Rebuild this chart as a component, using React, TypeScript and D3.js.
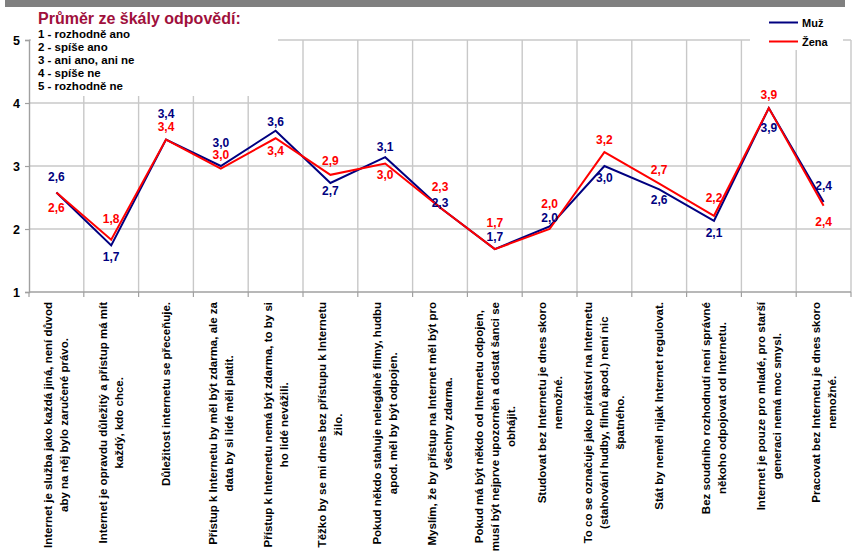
import React, { useEffect, useRef } from "react";
import * as d3 from "d3";

const categories: string[][] = [
  ["Internet je služba jako každá jiná, není důvod", "aby na něj bylo zaručené právo."],
  ["Internet je opravdu důležitý a přístup má mít", "každý, kdo chce."],
  ["Důležitost internetu se přeceňuje."],
  ["Přístup k Internetu by měl být zdarma, ale za", "data by si lidé měli platit."],
  ["Přístup k Internetu nemá být zdarma, to by si", "ho lidé nevážili."],
  ["Těžko by se mi dnes bez přístupu k Internetu", "žilo."],
  ["Pokud někdo stahuje nelegálně filmy, hudbu", "apod. měl by být odpojen."],
  ["Myslím, že by přístup na Internet měl být pro", "všechny zdarma."],
  ["Pokud má být někdo od Internetu odpojen,", "musí být nejprve upozorněn a dostat šanci se", "obhájit."],
  ["Studovat bez Internetu je dnes skoro", "nemožné."],
  ["To co se označuje jako pirátství na Internetu", "(stahování hudby, filmů apod.) není nic", "špatného."],
  ["Stát by neměl nijak Internet regulovat."],
  ["Bez soudního rozhodnutí není správné", "někoho odpojovat od Internetu."],
  ["Internet je pouze pro mladé, pro starší", "generaci nemá moc smysl."],
  ["Pracovat bez Internetu je dnes skoro", "nemožné."],
];

const muz = [2.58, 1.74, 3.42, 3.0, 3.56, 2.73, 3.14, 2.34, 1.68, 2.04, 3.0, 2.63, 2.13, 3.92, 2.43];
const zena = [2.58, 1.83, 3.42, 2.96, 3.44, 2.86, 3.04, 2.34, 1.68, 2.0, 3.22, 2.72, 2.21, 3.92, 2.37];

const yTicks = [1, 2, 3, 4, 5];
const seriesNames = ["Muž", "Žena"];
const titleText = "Průměr ze škály odpovědí:";
const scaleLegend = ["1 - rozhodně ano", "2 - spíše ano", "3 - ani ano, ani ne", "4 - spíše ne", "5 - rozhodně ne"];

// label placement offsets (px, relative to the point)
const muzLabelDy = [-15.5, 11.3, -25.5, -23.3, -9, 7.7, -10.5, -5, -11.9, -8.2, 12.3, 10.7, 11.9, 20.3, -16.2];
const zenaLabelDy = [15.5, -20.4, -12.2, -13.5, 12.7, -13.8, 11.5, -20.5, -26.5, -25, -12.1, -13.6, -17.5, -13, 16];

const FONT = "'Liberation Sans', Arial, sans-serif";
const NAVY = "#000080";
const RED = "#FF0000";

export default function App() {
  const ref = useRef<SVGSVGElement>(null);

  useEffect(() => {
    const svg = d3.select(ref.current);
    svg.selectAll("*").remove();
    const W = 858, H = 554;
    const left = 29, right = 851, top = 40, bottom = 292;

    svg.append("rect").attr("width", W).attr("height", H).attr("fill", "#fff");
    svg.append("rect").attr("x", 5).attr("y", 0).attr("width", 840).attr("height", 7).attr("fill", "#808080");

    const x = d3.scaleBand<number>().domain(d3.range(categories.length)).range([left, right]).padding(0);
    const y = d3.scaleLinear().domain([1, 5]).range([bottom, top]);
    const step = x.step();
    const cx = (i: number) => (x(i) as number) + x.bandwidth() / 2;

    const grid = svg.append("g");
    yTicks.filter((t) => t > 1).forEach((t) => {
      grid.append("line").attr("x1", left).attr("x2", right).attr("y1", y(t)).attr("y2", y(t))
        .attr("stroke", "#c8c8c8").attr("stroke-width", 1.4);
    });
    d3.range(1, categories.length + 1).forEach((i) => {
      const gx = left + i * step;
      grid.append("line").attr("x1", gx).attr("x2", gx).attr("y1", top).attr("y2", bottom)
        .attr("stroke", "#c8c8c8").attr("stroke-width", 1.4);
    });

    // cover boxes for legends
    svg.append("rect").attr("x", 31).attr("y", 8).attr("width", 247).attr("height", 88).attr("fill", "#fff");
    svg.append("rect").attr("x", 750).attr("y", 8).attr("width", 93).attr("height", 42).attr("fill", "#fff");

    // y axis
    const yAxis = svg.append("g").attr("transform", `translate(${left},0)`)
      .call(d3.axisLeft(y).tickValues(yTicks).tickSize(4).tickPadding(5).tickFormat((d) => String(d)));
    yAxis.select(".domain").attr("stroke", "#a0a0a0").attr("stroke-width", 1.4);
    yAxis.selectAll(".tick line").attr("stroke", "#a0a0a0").attr("stroke-width", 1.2);
    yAxis.selectAll(".tick text").attr("font-family", FONT).attr("font-weight", "bold")
      .attr("font-size", 12.5).attr("fill", "#000");

    // x axis
    svg.append("line").attr("x1", left).attr("x2", right).attr("y1", bottom).attr("y2", bottom)
      .attr("stroke", "#a0a0a0").attr("stroke-width", 1.4);
    d3.range(0, categories.length + 1).forEach((i) => {
      const gx = left + i * step;
      svg.append("line").attr("x1", gx).attr("x2", gx).attr("y1", bottom).attr("y2", bottom + 5)
        .attr("stroke", "#a0a0a0").attr("stroke-width", 1.2);
    });

    // category labels (rotated)
    categories.forEach((lines, i) => {
      const g = svg.append("g").attr("transform", `translate(${cx(i)},302) rotate(-90)`);
      const texts = lines.map((ln, j) =>
        g.append("text").text(ln)
          .attr("y", (j - (lines.length - 1) / 2) * 16)
          .attr("dominant-baseline", "central")
          .attr("text-anchor", "middle")
          .attr("font-family", FONT).attr("font-weight", "bold").attr("font-size", 11.5).attr("fill", "#000")
      );
      const maxLen = d3.max(texts, (t) => (t.node() as SVGTextElement).getComputedTextLength()) || 0;
      texts.forEach((t) => t.attr("x", -maxLen / 2));
    });

    // lines
    const line = d3.line<number>().x((_, i) => cx(i)).y((d) => y(d));
    svg.append("path").datum(muz).attr("d", line).attr("fill", "none").attr("stroke", NAVY).attr("stroke-width", 2);
    svg.append("path").datum(zena).attr("d", line).attr("fill", "none").attr("stroke", RED).attr("stroke-width", 2);

    // data labels
    const fmt = (v: number) => v.toFixed(1).replace(".", ",");
    const addLabels = (vals: number[], dys: number[], color: string) => {
      vals.forEach((v, i) => {
        svg.append("text").text(fmt(v)).attr("x", cx(i)).attr("y", y(v) + dys[i])
          .attr("dominant-baseline", "central").attr("text-anchor", "middle")
          .attr("font-family", FONT).attr("font-weight", "bold").attr("font-size", 12).attr("fill", color);
      });
    };
    addLabels(muz, muzLabelDy, NAVY);
    addLabels(zena, zenaLabelDy, RED);

    // title + scale legend
    svg.append("text").text(titleText).attr("x", 38).attr("y", 24)
      .attr("font-family", FONT).attr("font-weight", "bold").attr("font-size", 16).attr("fill", "#A0103C");
    scaleLegend.forEach((s, i) => {
      svg.append("text").text(s).attr("x", 38).attr("y", 38 + i * 13)
        .attr("font-family", FONT).attr("font-weight", "bold").attr("font-size", 11.5).attr("fill", "#000");
    });

    // series legend
    const colors = [NAVY, RED];
    seriesNames.forEach((s, i) => {
      const ly = 22.5 + i * 19;
      svg.append("line").attr("x1", 769).attr("x2", 798).attr("y1", ly).attr("y2", ly)
        .attr("stroke", colors[i]).attr("stroke-width", 2);
      svg.append("text").text(s).attr("x", 802).attr("y", ly + 4)
        .attr("font-family", FONT).attr("font-weight", "bold").attr("font-size", 11).attr("fill", "#000");
    });
  }, []);

  return (
    <svg ref={ref} width={858} height={554}
      style={{ position: "absolute", left: 0, top: 0, display: "block" }} />
  );
}
